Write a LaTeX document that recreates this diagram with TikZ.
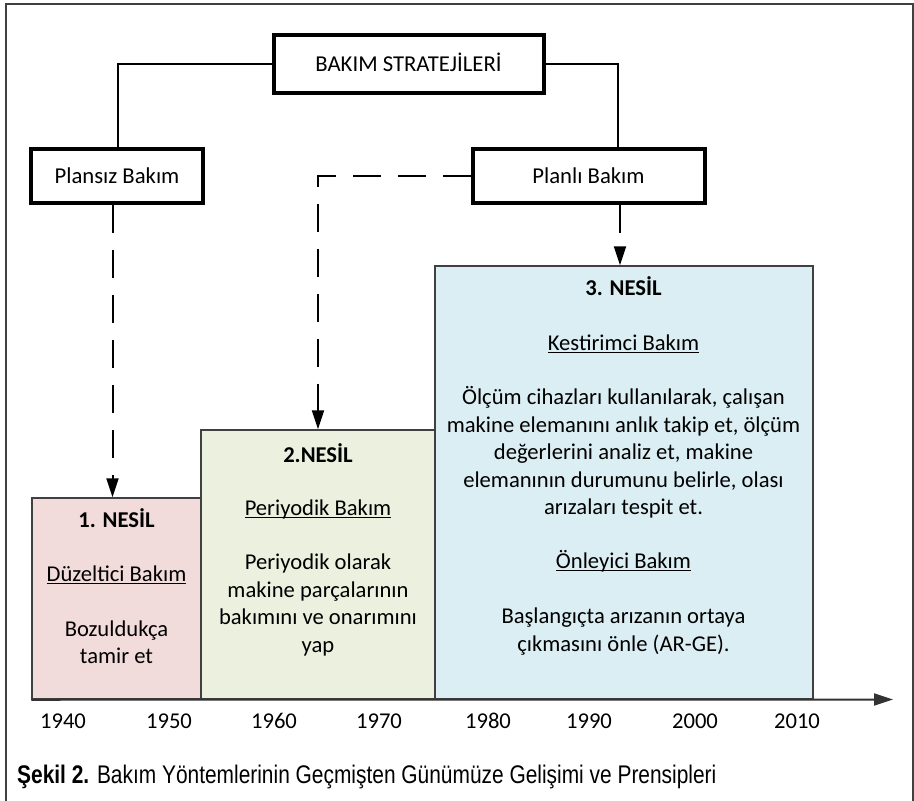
\documentclass[tikz,border=0pt]{standalone}
\usepackage{fontspec}
\setmainfont{Carlito}
\newfontfamily\capfont[FakeStretch=0.82]{Liberation Sans}
\usetikzlibrary{arrows.meta}

\definecolor{nesilpink}{RGB}{242,220,219}
\definecolor{nesilgreen}{RGB}{235,241,222}
\definecolor{nesilblue}{RGB}{219,238,243}
\definecolor{edgegray}{RGB}{64,64,64}

% underline at a fixed depth (through descenders)
\newcommand{\ulbox}[1]{\setbox0=\hbox{#1}\rlap{\rule[-3pt]{\wd0}{1.3pt}}\box0}

\tikzset{
  topbox/.style={draw=black, line width=4pt, fill=white, inner sep=0pt,
    text height=14pt, text depth=0pt, font=\fontsize{22.7}{26}\selectfont},
  conn/.style={line width=2pt},
  dashline/.style={line width=2pt, dash pattern=on 28pt off 17pt},
  nesilbox/.style={draw=edgegray, line width=1.5pt, inner sep=0pt},
  txt/.style={anchor=base, inner sep=0pt, font=\fontsize{22.6}{26}\selectfont},
}

\begin{document}
\begin{tikzpicture}[x=1pt,y=-1pt,line cap=butt,>={Triangle[length=19pt,width=12pt]}]
\useasboundingbox (0,0) rectangle (914,801);
\draw[line width=1.5pt, color=black!75] (6,801) -- (6,4) -- (913,4) -- (913,801);

% ust kutular
\node[topbox, minimum width=270pt, minimum height=58pt] (strat) at (408.5,64) {BAKIM STRATEJİLERİ};
\node[topbox, minimum width=172pt, minimum height=54pt] (plansiz) at (117,176) {Plansız Bakım};
\node[topbox, minimum width=232pt, minimum height=54pt] (planli) at (588.5,176) {Planlı Bakım};
\draw[conn] (strat.west) -| ([xshift=1pt]plansiz.north);
\draw[conn] (strat.east) -| ([xshift=29.5pt]planli.north);

% nesil kutulari
\node[nesilbox, fill=nesilpink, minimum width=169pt, minimum height=201pt] (gen1) at (116.5,598.5) {};
\node[nesilbox, fill=nesilgreen, minimum width=234pt, minimum height=269pt] (gen2) at (318,564.5) {};
\node[nesilbox, fill=nesilblue, minimum width=378pt, minimum height=433pt] (gen3) at (624,482.5) {};

\draw[dashline,->] ([xshift=-4.5pt]plansiz.south) -- ([xshift=-4.5pt]plansiz.south |- gen1.north);
\draw[dashline,->] (planli.west) -| (gen2.north);
\draw[dashline,->] ([xshift=31.5pt]planli.south) -- ([xshift=31.5pt]planli.south |- gen3.north);

% 1. nesil
\node[txt] (t1) at (116.5,527) {\textbf{1. NESİL}};
\node[txt] (s1) at (116.5,581) {\ulbox{Düzeltici Bakım}};
\node[txt] (b1a) at (116.5,636) {Bozuldukça};
\node[txt] (b1b) at (116.5,663) {tamir et};

% 2. nesil
\node[txt] (t2) at (318,462) {\textbf{2.NESİL}};
\node[txt] (s2) at (318,515) {\ulbox{Periyodik Bakım}};
\foreach \yy/\ln [count=\i] in {569/{Periyodik olarak}, 597/{makine parçalarının},
    624/{bakımını ve onarımını}, 652/{yap}}
  \node[txt] (b2\i) at (318,\yy) {\ln};

% 3. nesil
\node[txt] (t3) at (623.5,295) {\textbf{3. NESİL}};
\node[txt] (s3a) at (623.5,350) {\ulbox{Kestirimci Bakım}};
\foreach \yy/\ln [count=\i] in {404/{Ölçüm cihazları kullanılarak, çalışan},
    432/{makine elemanını anlık takip et, ölçüm},
    459/{değerlerini analiz et, makine},
    487/{elemanının durumunu belirle, olası},
    514/{arızaları tespit et.}}
  \node[txt] (b3\i) at (623.5,\yy) {\ln};
\node[txt] (s3b) at (623.5,568) {\ulbox{Önleyici Bakım}};
\node[txt] (b3f) at (623.5,623) {Başlangıçta arızanın ortaya};
\node[txt] (b3g) at (623.5,651) {çıkmasını önle (AR-GE).};

% zaman ekseni
\coordinate (axend) at (893,699.5);
\draw[line width=2pt, color=black!80, ->] (gen1.south west) -- (axend);
\foreach \yr/\xx in {1940/63,1950/169,1960/274,1970/379,1980/488,1990/589,2000/695,2010/797}
  \node[txt] (yr\yr) at (\xx,728) {\yr};

\node[anchor=base west, inner sep=0pt, font=\capfont\fontsize{25.5}{30}\selectfont] (caption) at (17,783)
  {\textbf{Şekil 2.} Bakım Yöntemlerinin Geçmişten Günümüze Gelişimi ve Prensipleri};
\end{tikzpicture}
\end{document}
